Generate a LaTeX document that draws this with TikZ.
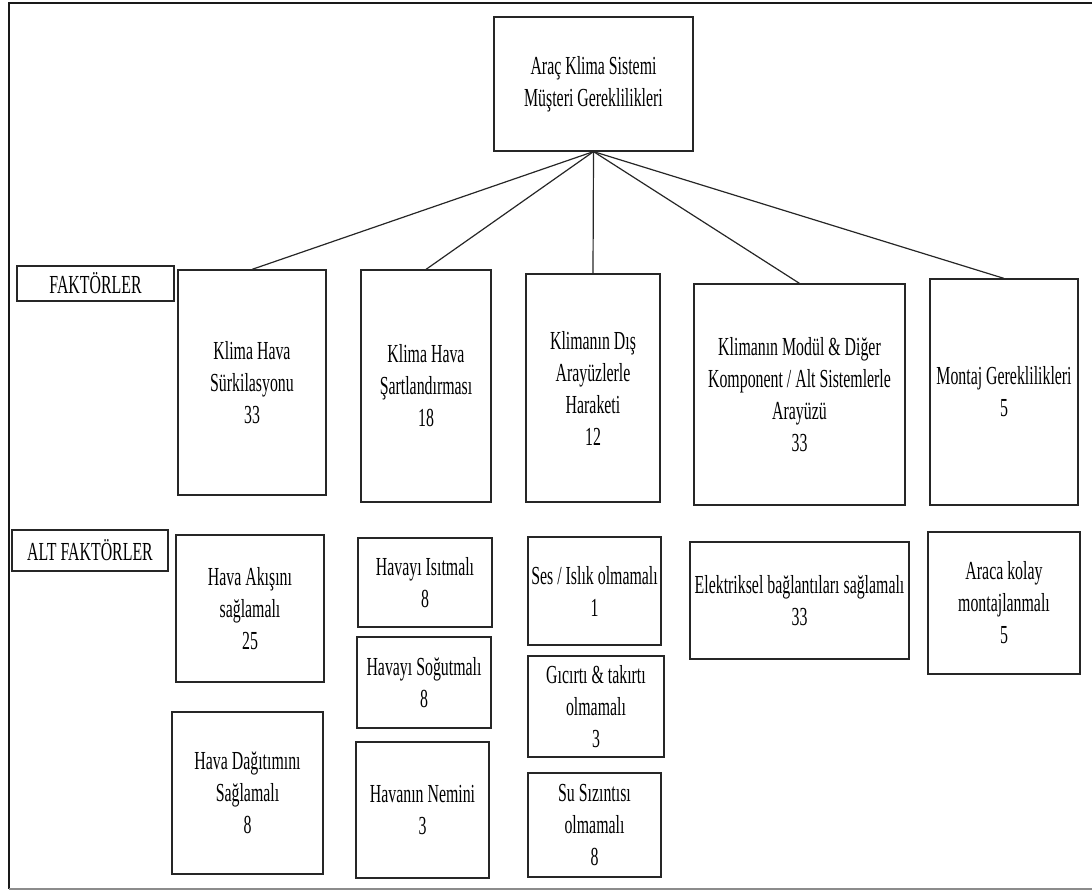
\documentclass[tikz,border=0pt]{standalone}
\usepackage{fontspec}
\setmainfont{Liberation Serif}[FakeStretch=0.61]
\begin{document}
\begin{tikzpicture}[x=0.75pt,y=-0.75pt,
  bx/.style 2 args={draw=black!85, line width=0.9pt, inner sep=0pt, align=center,
     minimum width=#1*0.75pt, minimum height=#2*0.75pt,
     font=\fontsize{19.5}{24}\selectfont},
  link/.style={draw=black!85, line width=0.9pt}]
\useasboundingbox (0,0) rectangle (1092,891);
% frame
\draw[line width=1.4pt, black!90] (1100,3) -- (9,3) -- (9,889);
\draw[line width=1.2pt, black!45] (9,889) -- (1100,889);
% top
\node[bx={199}{134}] (top) at (593.5,84) {Araç Klima Sistemi\\Müşteri Gereklilikleri};
% labels
\node[bx={157}{35}] (fak) at (95.5,283.5) {FAKTÖRLER};
\node[bx={156}{41}] (alt) at (90,550.5) {ALT FAKTÖRLER};
% factors
\node[bx={148}{225}] (b1) at (252,382.5) {Klima Hava\\Sürkilasyonu\\33};
\node[bx={130}{232}] (b2) at (426,386) {Klima Hava\\Şartlandırması\\18};
\node[bx={134}{228}] (b3) at (593,388) {Klimanın Dış\\Arayüzlerle\\Haraketi\\12};
\node[bx={211}{221}] (b4) at (799.5,394.5) {Klimanın Modül \& Diğer\\Komponent / Alt Sistemlerle\\Arayüzü\\33};
\node[bx={148}{226}] (b5) at (1004,392) {Montaj Gereklilikleri\\5};
% sub factors
\node[bx={148}{147}] (s11) at (250,608.5) {Hava Akışını\\sağlamalı\\25};
\node[bx={151}{162}] (s12) at (247.5,793) {Hava Dağıtımını\\Sağlamalı\\8};
\node[bx={134}{89}] (s21) at (425,582.5) {Havayı Isıtmalı\\8};
\node[bx={134}{91}] (s22) at (424,682.5) {Havayı Soğutmalı\\8};
\node[bx={133}{136}] (s23) at (422.5,810) {Havanın Nemini\\3};
\node[bx={133}{108}] (s31) at (594.5,591) {Ses / Islık olmamalı\\1};
\node[bx={136}{101}] (s32) at (596,706.5) {Gıcırtı \& takırtı\\olmamalı\\3};
\node[bx={133}{104}] (s33) at (594.5,825) {Su Sızıntısı\\olmamalı\\8};
\node[bx={219}{117}] (s41) at (799.5,600.5) {Elektriksel bağlantıları sağlamalı\\33};
\node[bx={152}{142}] (s51) at (1004,603) {Araca kolay\\montajlanmalı\\5};
% connectors
\foreach \b in {b1,b2,b3,b4,b5}
  \draw[link] (top.south) -- (\b.north);
\end{tikzpicture}
\end{document}
